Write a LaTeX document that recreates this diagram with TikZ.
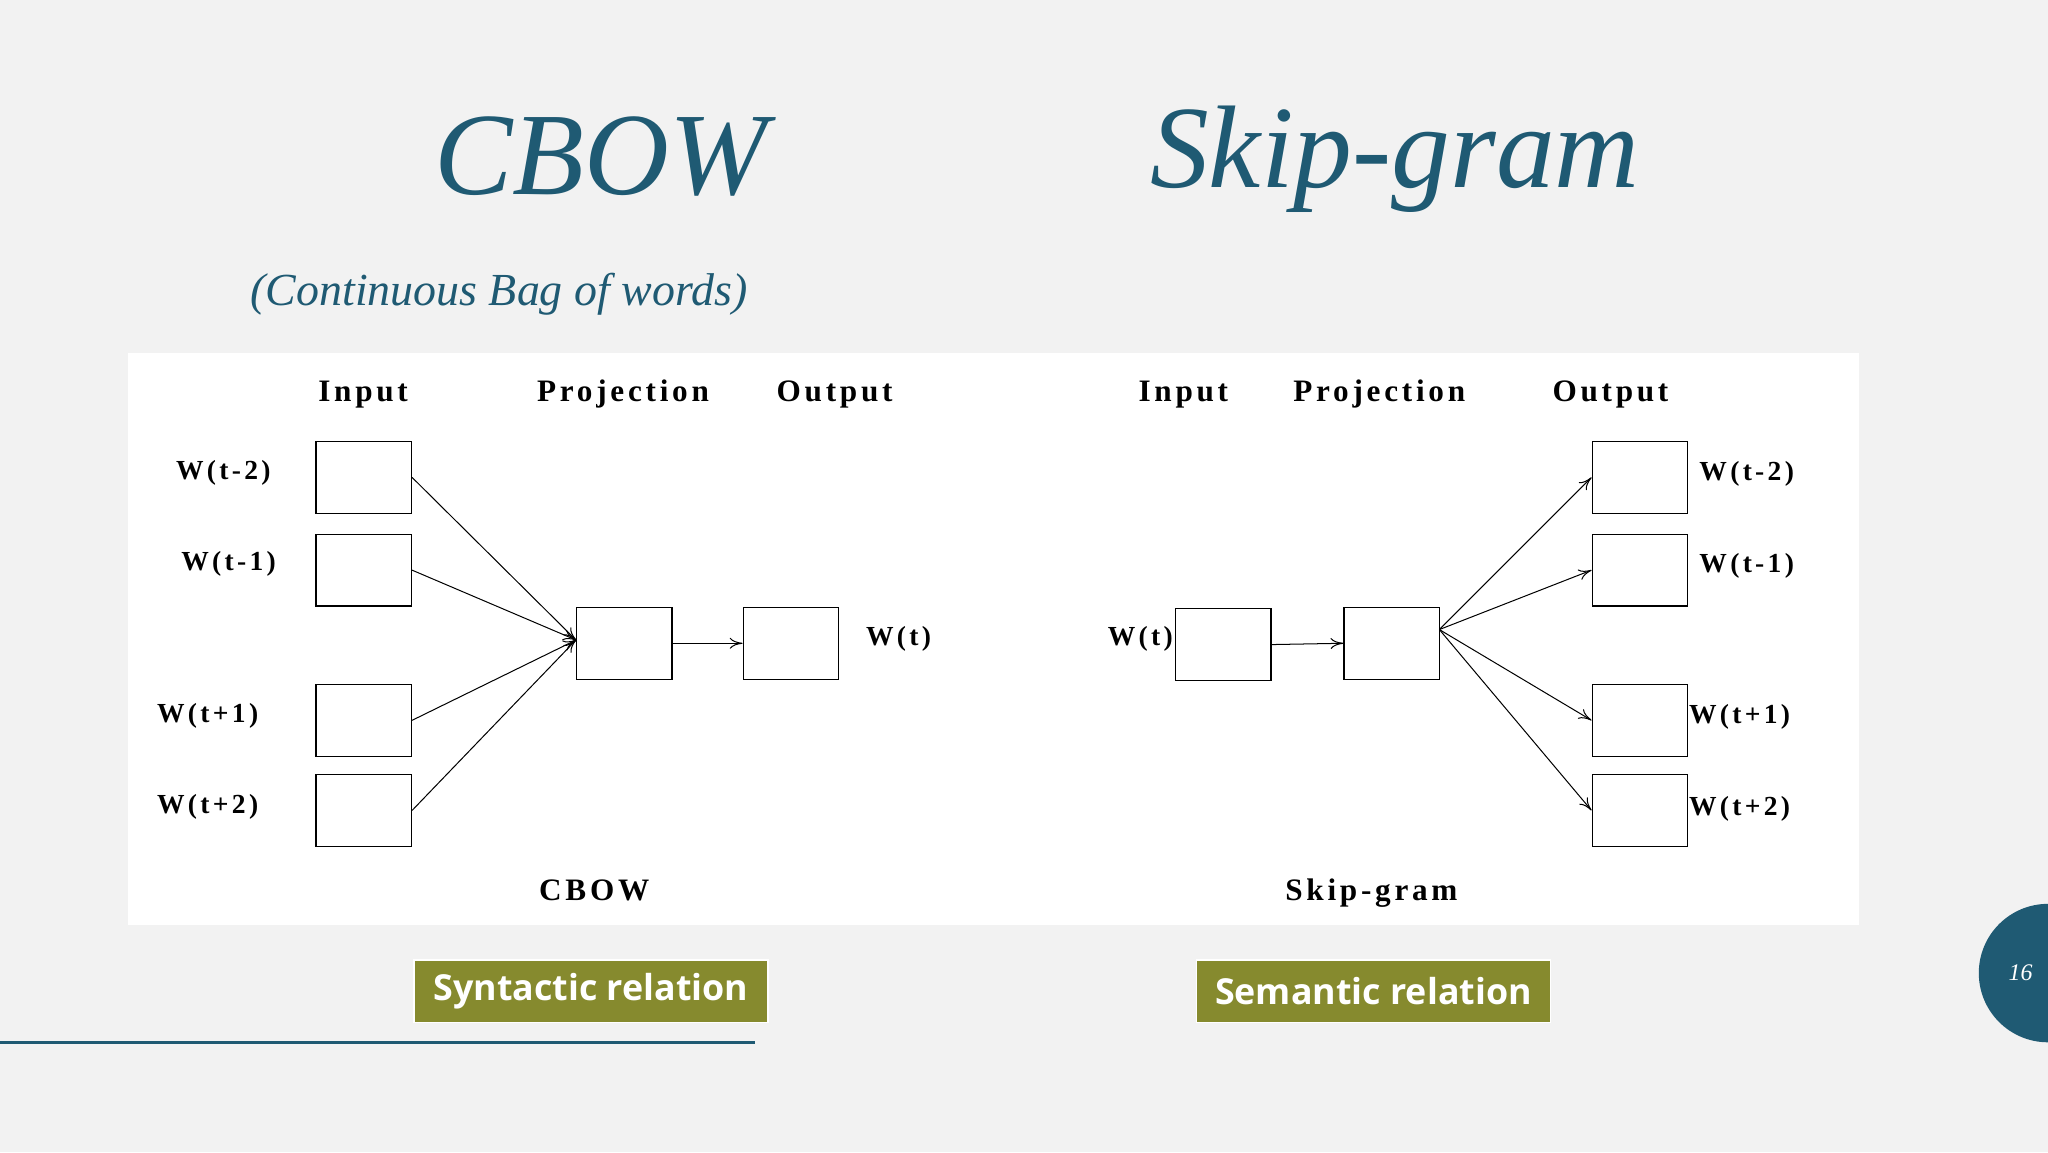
\documentclass[tikz,border=0pt]{standalone}
\usepackage{fontspec}
\setmainfont{Liberation Serif}
\newfontfamily\sansf{Open Sans}
\newfontfamily\wide[LetterSpace=12]{Liberation Serif}
\usetikzlibrary{arrows.meta}
\definecolor{teal}{HTML}{1F5A73}
\definecolor{olive}{HTML}{868A2E}
\definecolor{bg}{HTML}{F2F2F2}
\tikzset{
 bx/.style={draw=black,line width=1.4pt,minimum width=3.65cm,minimum height=2.75cm,inner sep=0},
 lab/.style={font=\wide\fontsize{34}{34}\selectfont\bfseries,inner sep=0},
 wl/.style={font=\wide\fontsize{30}{30}\selectfont\bfseries,inner sep=0},
 ar/.style={line width=1.1pt,-{To[length=14pt,width=12pt]}},
 rel/.style={fill=olive,draw=white,line width=1.5pt,text=white,font=\sansf\fontsize{39}{39}\selectfont\bfseries,minimum width=13.55cm,minimum height=2.4cm,inner sep=0}
}
\begin{document}
\begin{tikzpicture}[x=0.05cm,y=-0.05cm]
\fill[bg] (0,0) rectangle (1568,882);
\useasboundingbox (0,0) rectangle (1568,882);
\fill[white] (98,270) rectangle (1423,708);
\node[text=teal,font=\fontsize{128}{128}\selectfont\itshape] (t1) at (460,120) {CBOW};
\node[text=teal,font=\fontsize{128}{128}\selectfont\itshape] (t2) at (1068,122) {Skip-gram};
\node[text=teal,font=\fontsize{50}{50}\selectfont\itshape] (st) at (382,225) {(Continuous Bag of words)};
% CBOW
\node[lab] (ci) at (278,302) {Input};
\node[lab] (cp) at (477,302) {Projection};
\node[lab] (co) at (639,302) {Output};
\node[bx] (a1) at (278.5,365.5) {};
\node[bx] (a2) at (278.5,436.5) {};
\node[bx] (a3) at (278.5,551.5) {};
\node[bx] (a4) at (278.5,620.5) {};
\node[bx] (p) at (478,492.5) {};
\node[bx] (o) at (605.5,492.5) {};
\coordinate (pin) at (441,490);
\draw[ar] (a1.east) -- (pin);
\draw[ar] (a2.east) -- (pin);
\draw[ar] (a3.east) -- (pin);
\draw[ar] (a4.east) -- (pin);
\draw[ar] (p.east) -- (o.west);
\node[wl] (l1) at (171,362) {W(t-2)};
\node[wl] (l2) at (175,432) {W(t-1)};
\node[wl] (l3) at (159,548) {W(t+1)};
\node[wl] (l4) at (159,618) {W(t+2)};
\node[wl,anchor=west] (lo) at (663,489) {W(t)};
\node[lab] (cc) at (455,682) {CBOW};
% Skip-gram
\node[lab] (si) at (906,302) {Input};
\node[lab] (sp) at (1056,302) {Projection};
\node[lab] (so) at (1233,302) {Output};
\node[bx] (w) at (936.5,493.5) {};
\node[bx] (q) at (1065.5,492.5) {};
\node[bx] (b1) at (1255.5,365.5) {};
\node[bx] (b2) at (1255.5,436.5) {};
\node[bx] (b3) at (1255.5,551.5) {};
\node[bx] (b4) at (1255.5,620.5) {};
\coordinate (qo) at (1102,482);
\draw[ar] (w.east) -- (q.west);
\draw[ar] (qo) -- (b1.west);
\draw[ar] (qo) -- (b2.west);
\draw[ar] (qo) -- (b3.west);
\draw[ar] (qo) -- (b4.west);
\node[wl,anchor=east] (m0) at (898,489) {W(t)};
\node[wl,anchor=west] (m1) at (1301,363) {W(t-2)};
\node[wl,anchor=west] (m2) at (1301,433) {W(t-1)};
\node[wl,anchor=west] (m3) at (1293,549) {W(t+1)};
\node[wl,anchor=west] (m4) at (1293,619) {W(t+2)};
\node[lab] (sc) at (1050,684) {Skip-gram};
% relations
\node[rel] (r1) at (452.5,759) {Syntactic relation};
\node[rel] (r2) at (1051.5,759) {Semantic relation};
\draw[teal,line width=3.5pt] (0,798) -- (578,798);
\fill[teal] (1568,745) circle (53);
\node[text=white,font=\fontsize{26}{26}\selectfont\itshape] (pg) at (1547,745) {16};
\end{tikzpicture}
\end{document}
